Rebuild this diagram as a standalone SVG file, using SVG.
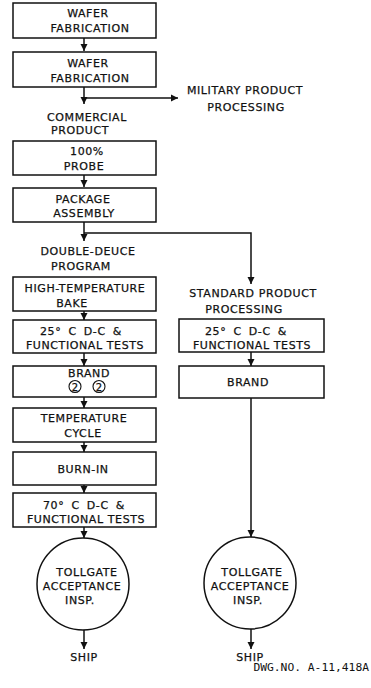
<svg xmlns="http://www.w3.org/2000/svg" width="371" height="688" viewBox="0 0 371 688">
<defs>
<marker id="ah" viewBox="0 0 10 10" refX="10" refY="5" markerWidth="5" markerHeight="5" orient="auto" markerUnits="strokeWidth">
<path d="M0,0 L10,5 L0,10 z" fill="#111"/>
</marker>
<style>
.b{fill:#fff;stroke:#111;stroke-width:1.5}
.t{font-family:"DejaVu Sans",sans-serif;font-size:11px;letter-spacing:0.6px;fill:#111;stroke:#111;stroke-width:0.25;text-anchor:middle}
.c{fill:none;stroke:#111;stroke-width:1.5}
.n{fill:none;stroke:#111;stroke-width:1.1}
.m{font-family:"DejaVu Sans Mono",monospace;font-size:11.3px;fill:#111;text-anchor:end}
</style>
</defs>
<rect width="371" height="688" fill="#fff"/>
<g id="connectors">
<path class="c" d="M84,38 V51" marker-end="url(#ah)"/>
<path class="c" d="M84,87 V104" marker-end="url(#ah)"/>
<path class="c" d="M84,98 H178" marker-end="url(#ah)"/>
<path class="c" d="M84,175 V187" marker-end="url(#ah)"/>
<path class="c" d="M84,222 V241" marker-end="url(#ah)"/>
<path class="c" d="M84,233 H251 V284" marker-end="url(#ah)"/>
<path class="c" d="M84,311 V320" marker-end="url(#ah)"/>
<path class="c" d="M84,353 V366" marker-end="url(#ah)"/>
<path class="c" d="M84,397 V408" marker-end="url(#ah)"/>
<path class="c" d="M84,442 V452" marker-end="url(#ah)"/>
<path class="c" d="M84,485 V493" marker-end="url(#ah)"/>
<path class="c" d="M84,527 V538" marker-end="url(#ah)"/>
<path class="c" d="M84,630 V649" marker-end="url(#ah)"/>
<path class="c" d="M251,352 V366" marker-end="url(#ah)"/>
<path class="c" d="M251,398 V537" marker-end="url(#ah)"/>
<path class="c" d="M251,629 V649" marker-end="url(#ah)"/>
</g>
<g id="wafer1"><rect class="b" x="13" y="3" width="143" height="35"/>
<text class="t" x="88" y="17">WAFER</text><text class="t" x="90" y="32">FABRICATION</text></g>
<g id="wafer2"><rect class="b" x="13" y="52" width="143" height="35"/>
<text class="t" x="88" y="67">WAFER</text><text class="t" x="90" y="82">FABRICATION</text></g>
<g id="military"><text class="t" x="245" y="94">MILITARY PRODUCT</text><text class="t" x="246" y="111">PROCESSING</text></g>
<g id="commercial"><text class="t" x="87" y="121">COMMERCIAL</text><text class="t" x="80" y="134">PRODUCT</text></g>
<g id="probe"><rect class="b" x="13" y="141" width="143" height="34"/>
<text class="t" x="87" y="155">100%</text><text class="t" x="84" y="170">PROBE</text></g>
<g id="package"><rect class="b" x="13" y="188" width="143" height="34"/>
<text class="t" x="83" y="203">PACKAGE</text><text class="t" x="84" y="217">ASSEMBLY</text></g>
<g id="doubledeuce"><text class="t" x="88" y="255">DOUBLE-DEUCE</text><text class="t" x="81" y="270">PROGRAM</text></g>
<g id="bake"><rect class="b" x="13" y="277" width="143" height="34"/>
<text class="t" x="85" y="292">HIGH-TEMPERATURE</text><text class="t" x="72" y="307">BAKE</text></g>
<g id="test25l"><rect class="b" x="13" y="320" width="143" height="33"/>
<text class="t" x="81" y="335" word-spacing="3">25° C D-C &amp;</text><text class="t" x="85" y="349">FUNCTIONAL TESTS</text></g>
<g id="brandl"><rect class="b" x="13" y="366" width="143" height="31"/>
<text class="t" x="89" y="377">BRAND</text>
<circle class="n" cx="75" cy="386.5" r="6"/><text class="t" x="75" y="390.5" style="font-size:10px;letter-spacing:0">2</text>
<circle class="n" cx="99" cy="386.5" r="6"/><text class="t" x="99" y="390.5" style="font-size:10px;letter-spacing:0">2</text></g>
<g id="tempcycle"><rect class="b" x="13" y="408" width="143" height="34"/>
<text class="t" x="84" y="422">TEMPERATURE</text><text class="t" x="83" y="437">CYCLE</text></g>
<g id="burnin"><rect class="b" x="13" y="452" width="143" height="33"/>
<text class="t" x="83" y="473">BURN-IN</text></g>
<g id="test70"><rect class="b" x="13" y="493" width="143" height="34"/>
<text class="t" x="84" y="509" word-spacing="3">70° C D-C &amp;</text><text class="t" x="86" y="523">FUNCTIONAL TESTS</text></g>
<g id="tollgatel"><circle class="b" cx="83" cy="584" r="46"/>
<text class="t" x="87" y="576">TOLLGATE</text><text class="t" x="82" y="590">ACCEPTANCE</text><text class="t" x="80" y="604">INSP.</text></g>
<g id="shipl"><text class="t" x="84" y="661">SHIP</text></g>
<g id="standard"><text class="t" x="253" y="297">STANDARD PRODUCT</text><text class="t" x="244" y="313">PROCESSING</text></g>
<g id="test25r"><rect class="b" x="179" y="319" width="145" height="33"/>
<text class="t" x="246" y="335" word-spacing="3">25° C D-C &amp;</text><text class="t" x="252" y="349">FUNCTIONAL TESTS</text></g>
<g id="brandr"><rect class="b" x="179" y="366" width="145" height="32"/>
<text class="t" x="248" y="386">BRAND</text></g>
<g id="tollgater"><circle class="b" cx="250" cy="583" r="46"/>
<text class="t" x="252" y="576">TOLLGATE</text><text class="t" x="250" y="590">ACCEPTANCE</text><text class="t" x="248" y="604">INSP.</text></g>
<g id="shipr"><text class="t" x="250" y="661">SHIP</text></g>
<g id="dwg"><text class="m" x="369" y="671">DWG.NO. A-11,418A</text></g>
</svg>
